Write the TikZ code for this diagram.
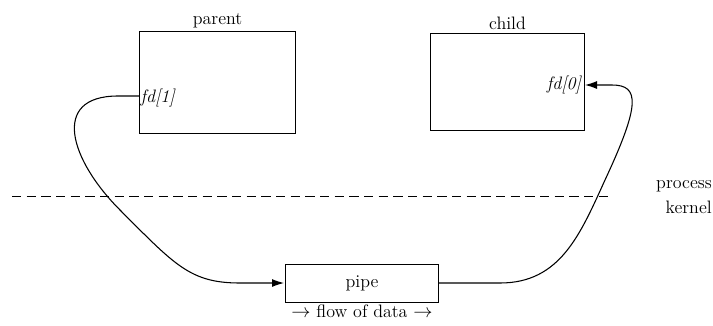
\documentclass[tikz,border=0pt]{standalone}
\usetikzlibrary{arrows.meta}
\begin{document}
\begin{tikzpicture}[x=0.75pt,y=-0.75pt,
  box/.style={draw,line width=0.8pt,inner sep=0pt},
  lab/.style={font=\fontsize{13.5}{15}\selectfont},
  flow/.style={line width=0.8pt},
  tip/.style={-{Latex[length=9pt,width=6pt]}}]
\useasboundingbox (0,0) rectangle (713,325);
\node[box,minimum width=156*0.75pt,minimum height=102*0.75pt,anchor=north west] (parent) at (139,31) {};
\node[box,minimum width=154*0.75pt,minimum height=97*0.75pt,anchor=north west] (child) at (430,33) {};
\node[box,minimum width=153*0.75pt,minimum height=38*0.75pt,anchor=north west,lab] (pipe) at (285,264) {pipe};
\node[lab,anchor=south,inner sep=2pt] (pt) at (parent.north) {parent};
\node[lab,anchor=south,inner sep=2pt] (ct) at (child.north) {child};
\node[lab,anchor=west,inner sep=1pt] (fd1) at (139,98) {\itshape fd[1]};
\node[lab,anchor=east,inner sep=2pt] (fd0) at (584,85) {\itshape fd[0]};
\node[lab,anchor=north,inner sep=1pt] (flow) at (pipe.south) {$\rightarrow$ flow of data $\rightarrow$};
\node[lab,anchor=east,inner sep=0pt] (proc) at (712,186) {process};
\node[lab,anchor=east,inner sep=0pt] (kern) at (712,207) {kernel};
\coordinate (dl) at (12,196);
\coordinate (dr) at (612,196);
\draw[dashed,line width=0.6pt,dash pattern=on 7pt off 4pt] (dl) -- (dr);
\coordinate (a1) at (139,96);
\coordinate (a2) at (284,283);
\draw[flow,tip] (a1) -- (118,96) .. controls (50,96) and (70,160) .. (120,210) .. controls (175,265) and (190,283) .. (240,283) -- (a2);
\coordinate (b1) at (438,283);
\coordinate (b2) at (585,85);
\draw[flow,tip] (b1) -- (500,283) .. controls (560,283) and (580,235) .. (605,180) .. controls (640,105) and (640,85) .. (612,85) -- (b2);
\end{tikzpicture}
\end{document}
